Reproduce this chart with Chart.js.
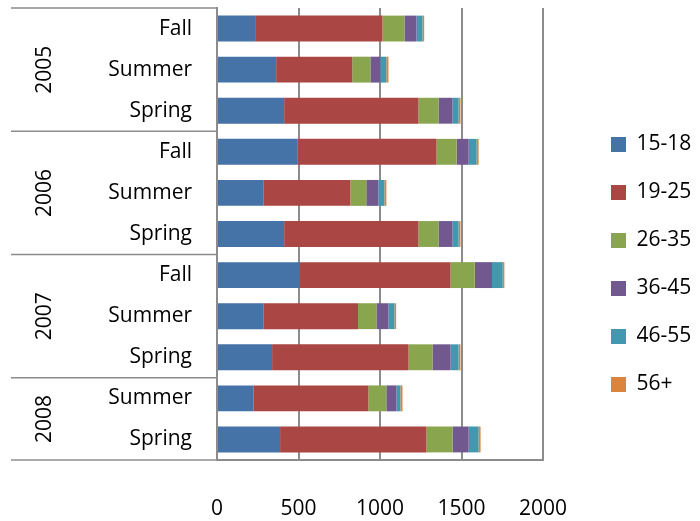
<!DOCTYPE html>
<html>
<head>
<meta charset="utf-8">
<script src="https://cdn.jsdelivr.net/npm/chart.js@4"></script>
<style>
  html, body { margin: 0; padding: 0; background: #fff; }
  #wrap { width: 700px; height: 521px; }
</style>
</head>
<body>
<div id="wrap"><canvas id="myChart" width="700" height="521"></canvas></div>
<script>
// rows, top to bottom
const seasons = ['Fall', 'Summer', 'Spring', 'Fall', 'Summer', 'Spring', 'Fall', 'Summer', 'Spring', 'Summer', 'Spring']
const rowYears = ['2005', '2005', '2005', '2006', '2006', '2006', '2007', '2007', '2007', '2008', '2008']

const age15to18 = [234, 363, 412, 496, 287, 412, 509, 287, 338, 223, 387]
const age19to25 = [781, 467, 824, 851, 531, 824, 924, 578, 837, 706, 898]
const age26to35 = [135, 111, 123, 123, 98, 123, 148, 113, 147, 110, 160]
const age36to45 = [74, 61, 86, 74, 74, 86, 106, 74, 111, 62, 99]
const age46to55 = [37, 37, 37, 49, 37, 37, 66, 37, 49, 24, 61]
const age56plus = [10, 13, 12, 12, 12, 12, 10, 10, 12, 13, 12]

const xTicks = [0, 500, 1000, 1500, 2000]

const lineColor = '#8c8c8c'
const font = { family: '"Open Sans", sans-serif', size: 21 }

// year labels + separator lines left of the season labels
const yearBands = {
    id: 'yearBands',
    afterDraw(chart) {
        const ctx = chart.ctx
        const y = chart.scales.y
        const x = chart.scales.x
        const half = (y.getPixelForValue(1) - y.getPixelForValue(0)) / 2
        const left = y.left + 11
        ctx.save()
        ctx.strokeStyle = lineColor
        ctx.lineWidth = 1.5
        ctx.fillStyle = '#000'
        ctx.font = font.size + 'px ' + font.family
        ctx.textAlign = 'center'
        ctx.textBaseline = 'middle'
        let start = 0
        for (let i = 1; i <= rowYears.length; i++) {
            if (i < rowYears.length && rowYears[i] === rowYears[start]) continue
            const top = y.getPixelForValue(start) - half
            const bottom = y.getPixelForValue(i - 1) + half
            ctx.beginPath()
            ctx.moveTo(left, top)
            ctx.lineTo(y.right, top)
            ctx.stroke()
            if (i === rowYears.length) {
                ctx.beginPath()
                ctx.moveTo(left, bottom)
                ctx.lineTo(x.left, bottom)
                ctx.stroke()
            }
            ctx.save()
            ctx.translate(y.left + 45, (top + bottom) / 2)
            ctx.rotate(-Math.PI / 2)
            ctx.fillText(rowYears[start], 0, 0)
            ctx.restore()
            start = i
        }
        ctx.restore()
    }
}

// legend sits a bit away from the plot
const legendPlace = {
    id: 'legendPlace',
    beforeInit(chart) {
        const fit = chart.legend.fit
        chart.legend.fit = function () {
            fit.bind(this)()
            this.width = 157
        }
    },
    afterLayout(chart) {
        chart.legend.left = chart.chartArea.right + 41
    }
}

const context = document.getElementById('myChart').getContext('2d')
const myChart = new Chart(context, {
    type: 'bar',
    data: {
        labels: seasons,
        datasets: [
            { label: '15-18', data: age15to18, backgroundColor: '#4572A7' },
            { label: '19-25', data: age19to25, backgroundColor: '#AA4643' },
            { label: '26-35', data: age26to35, backgroundColor: '#89A54E' },
            { label: '36-45', data: age36to45, backgroundColor: '#71588F' },
            { label: '46-55', data: age46to55, backgroundColor: '#4198AF' },
            { label: '56+', data: age56plus, backgroundColor: '#DB843D' }
        ]
    },
    options: {
        indexAxis: 'y',
        responsive: false,
        animation: false,
        maintainAspectRatio: false,
        layout: { padding: { top: 8, left: 0, right: 0, bottom: 0 } },
        datasets: {
            bar: { categoryPercentage: 1, barPercentage: 0.63, borderWidth: 0 }
        },
        scales: {
            x: {
                stacked: true,
                min: 0,
                max: 2000,
                afterBuildTicks(scale) {
                    scale.ticks = xTicks.map(v => ({ value: v }))
                },
                afterFit(scale) {
                    scale.height = 61
                    scale.paddingLeft = 0
                    scale.paddingRight = 0
                },
                grid: { color: lineColor, lineWidth: 2, drawTicks: false },
                border: { display: true, color: lineColor, width: 2 },
                ticks: {
                    color: '#000', font: font, padding: 36, maxRotation: 0,
                    callback: v => String(v)
                }
            },
            y: {
                stacked: true,
                afterFit(scale) {
                    scale.width = 217
                    scale.paddingTop = 0
                    scale.paddingBottom = 0
                },
                grid: { display: false, drawTicks: false },
                border: { display: true, color: lineColor, width: 2 },
                ticks: { color: '#000', font: font, padding: 25 }
            }
        },
        plugins: {
            legend: {
                position: 'right',
                align: 'center',
                labels: {
                    color: '#000',
                    font: font,
                    boxWidth: 15,
                    boxHeight: 15,
                    padding: 27
                }
            },
            tooltip: { enabled: false }
        }
    },
    plugins: [yearBands, legendPlace]
})
</script>
</body>
</html>
